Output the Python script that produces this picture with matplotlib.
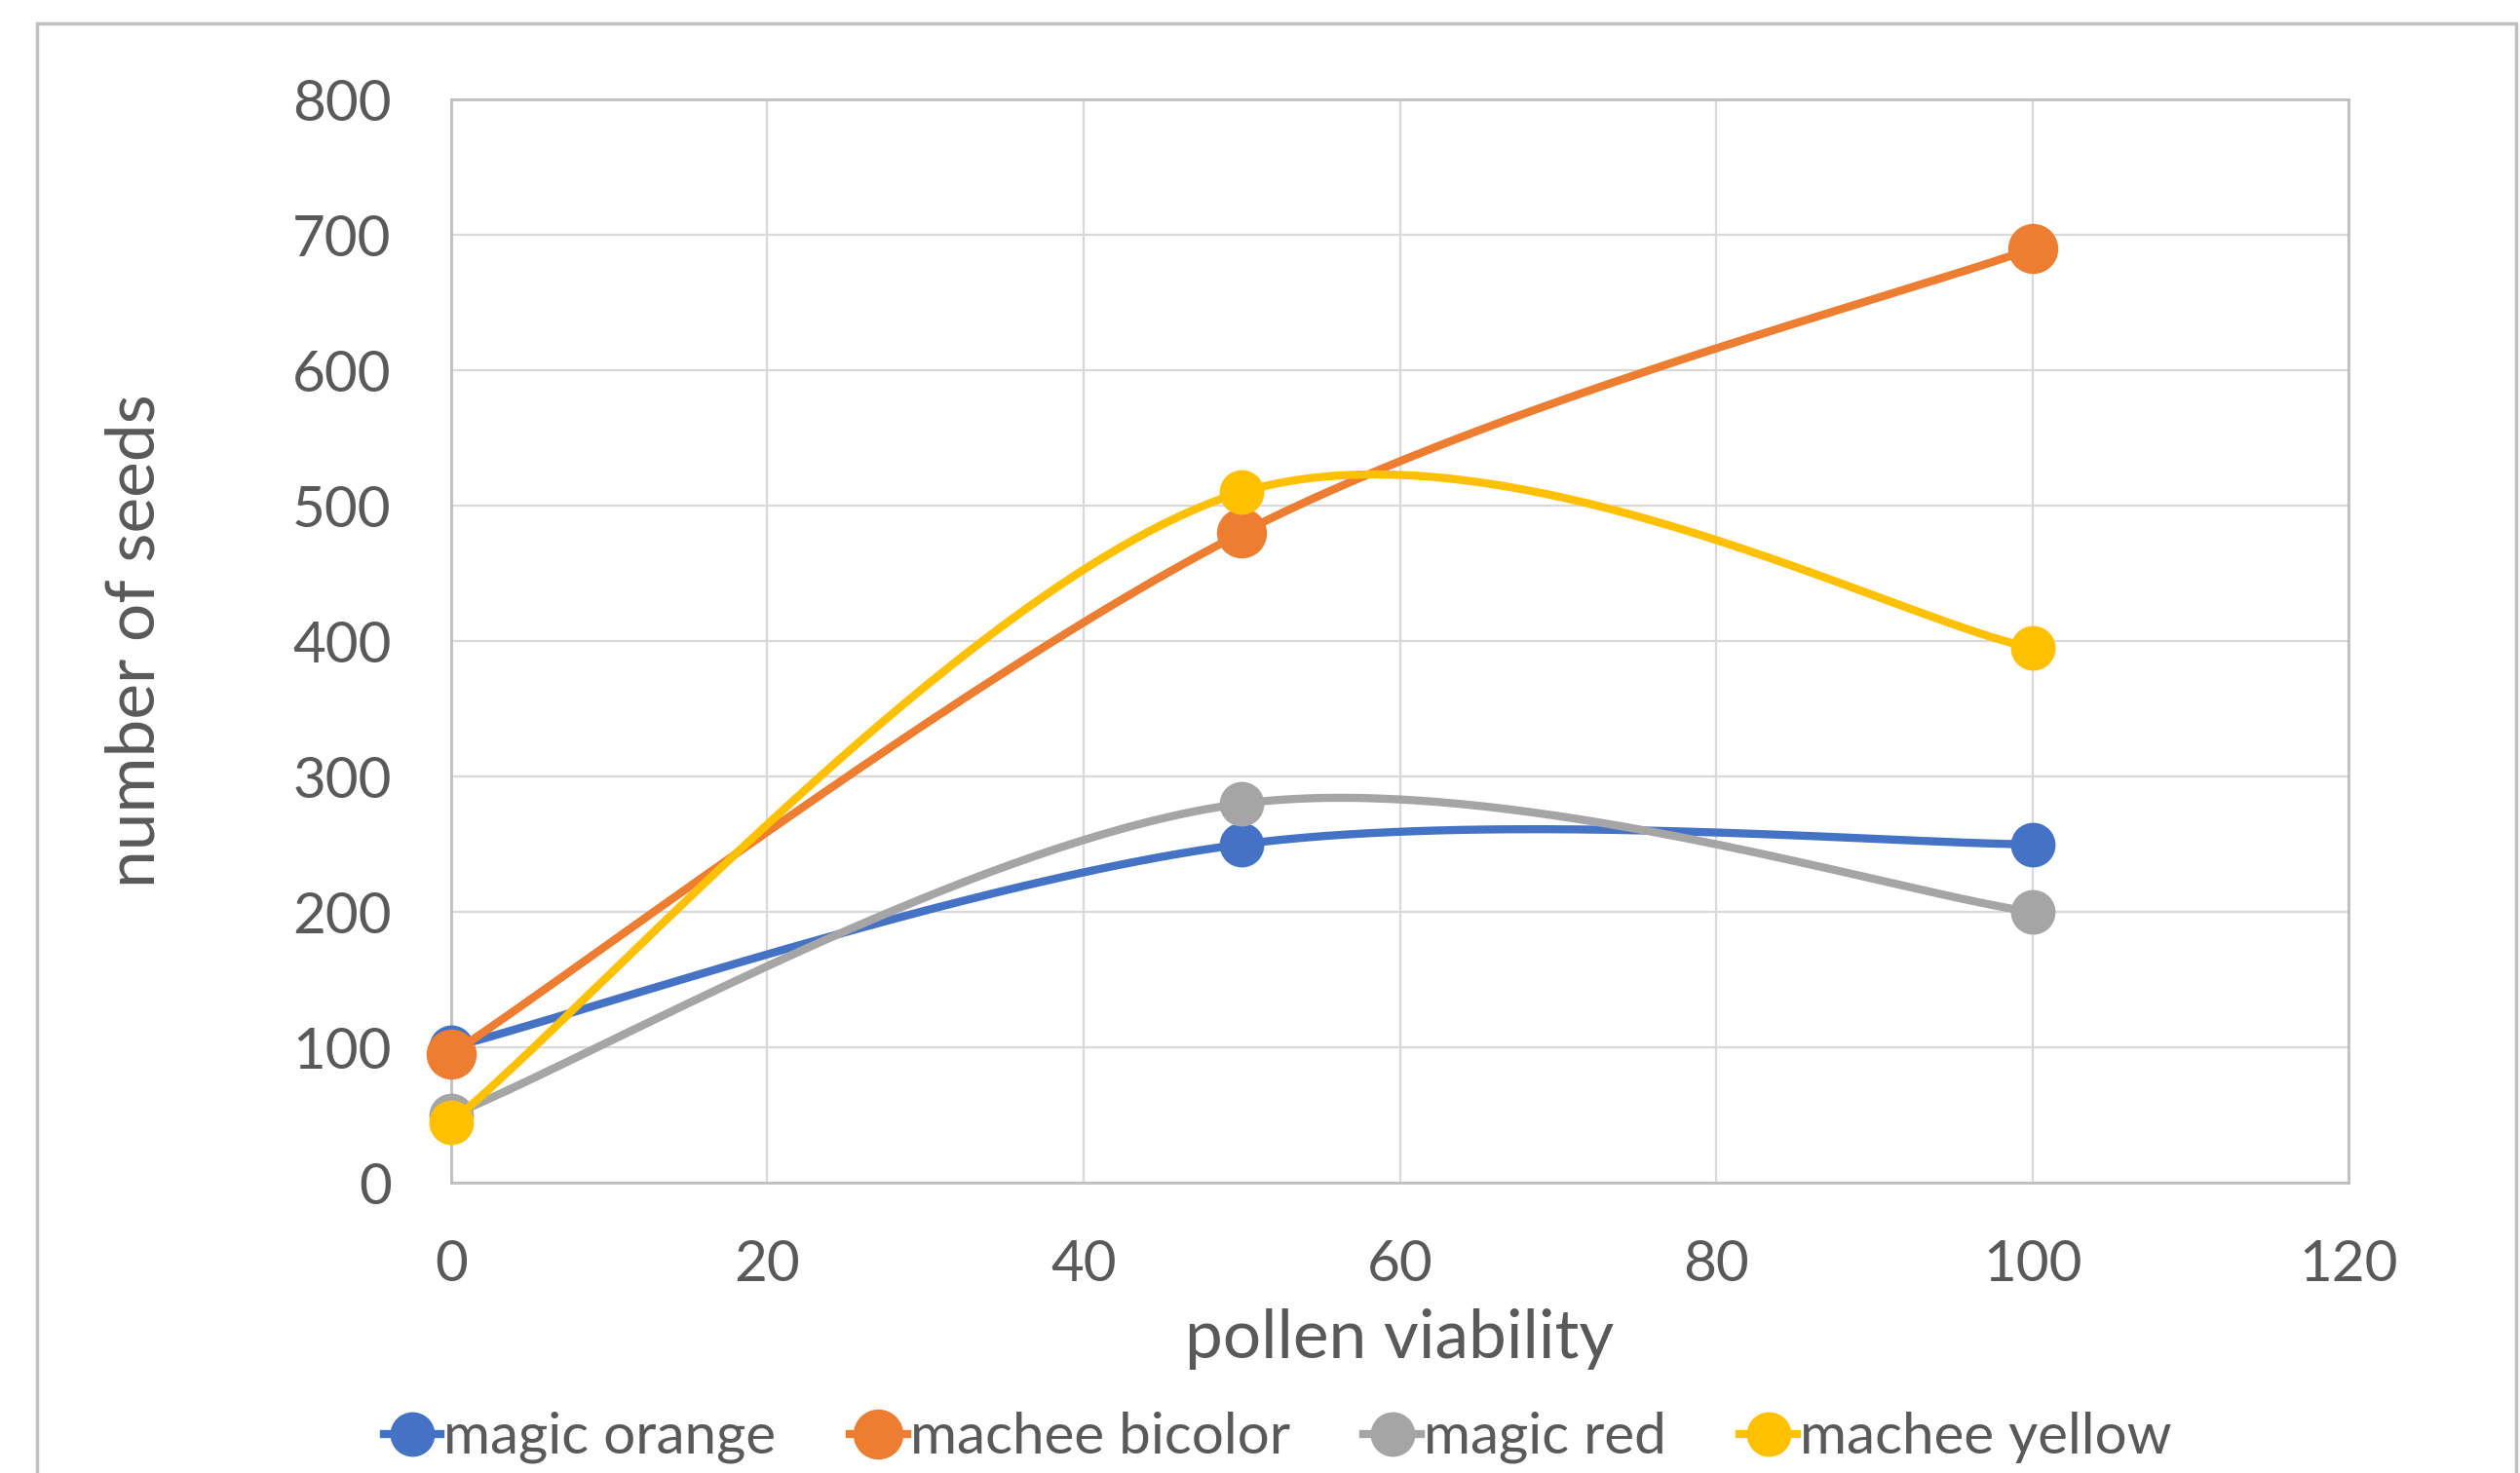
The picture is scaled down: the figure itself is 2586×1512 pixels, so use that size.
import numpy as np
import matplotlib.pyplot as plt
from matplotlib.patches import Rectangle
from matplotlib.lines import Line2D

viability = [0, 50, 100]
names = ["magic orange", "machee bicolor", "magic red", "machee yellow"]
seeds = {
    "magic orange":   [100, 250, 250],
    "machee bicolor": [95, 480, 690],
    "magic red":      [50, 280, 200],
    "machee yellow":  [45, 510, 395],
}
colors = ["#4472C4", "#ED7D31", "#A5A5A5", "#FFC000"]
msizes = [32, 36, 32, 32]
xticks = [0, 20, 40, 60, 80, 100, 120]
yticks = [0, 100, 200, 300, 400, 500, 600, 700, 800]

TXT = "#595959"
plt.rcParams["font.family"] = ["Lato", "DejaVu Sans"]


def smooth(ax, xs, ys, n=80):
    # excel style smoothed line: bezier through points, built in display space
    pts = ax.transData.transform(np.column_stack([xs, ys]))
    padded = np.vstack([pts[0], pts, pts[-1]])
    t = np.linspace(0, 1, n)[:, None]
    out = []
    for i in range(len(pts) - 1):
        p0, p1, p2, p3 = padded[i:i + 4]
        c1 = p1 + (p2 - p0) / 6
        c2 = p2 - (p3 - p1) / 6
        out.append((1 - t)**3 * p1 + 3 * (1 - t)**2 * t * c1 + 3 * (1 - t) * t**2 * c2 + t**3 * p2)
    curve = ax.transData.inverted().transform(np.vstack(out))
    return curve[:, 0], curve[:, 1]


fig = plt.figure(figsize=(25.86, 15.12), dpi=100)
fig.subplots_adjust(left=0.179, right=0.932, top=0.9325, bottom=0.197)
ax = fig.add_subplot(111)

# outer chart border
fig.patches.append(Rectangle((38 / 2586, -0.1), (2582 - 38) / 2586, 1.1 - 24 / 1512,
                             transform=fig.transFigure, fill=False, edgecolor="#BFBFBF", linewidth=2.5))

ax.set_xlim(0, 120)
ax.set_ylim(0, 800)
ax.set_xticks(xticks)
ax.set_yticks(yticks)
ax.grid(True, color="#D9D9D9", linewidth=1.6)
ax.set_axisbelow(True)
for side in ax.spines:
    ax.spines[side].set_color("#BFBFBF")
    ax.spines[side].set_linewidth(2)
ax.tick_params(length=0, labelsize=42, labelcolor=TXT)
ax.tick_params(axis="x", pad=42)
ax.tick_params(axis="y", pad=44)

handles = []
for i, name in enumerate(names):
    sx, sy = smooth(ax, viability, seeds[name])
    ax.plot(sx, sy, color=colors[i], linewidth=6, solid_capstyle="round", zorder=3 + i, clip_on=False)
    ax.plot(viability, seeds[name], "o", color=colors[i], markersize=msizes[i], zorder=3 + i, clip_on=False)
    handles.append(Line2D([], [], color=colors[i], linewidth=6, marker="o", markersize=msizes[i], label=name))

ax.set_xlabel("pollen viability", fontsize=50, color=TXT)
ax.set_ylabel("number of seeds", fontsize=50, color=TXT)
ax.xaxis.set_label_coords(0.5, -0.116)
ax.yaxis.set_label_coords(-0.150, 0.5)

fig.legend(handles=handles, loc="center", bbox_to_anchor=(0.507, 0.024), ncol=4, frameon=False,
           fontsize=42, labelcolor=TXT, handlelength=1.0, handletextpad=0.05, columnspacing=1.3)

fig.savefig("out.png", dpi=100)
